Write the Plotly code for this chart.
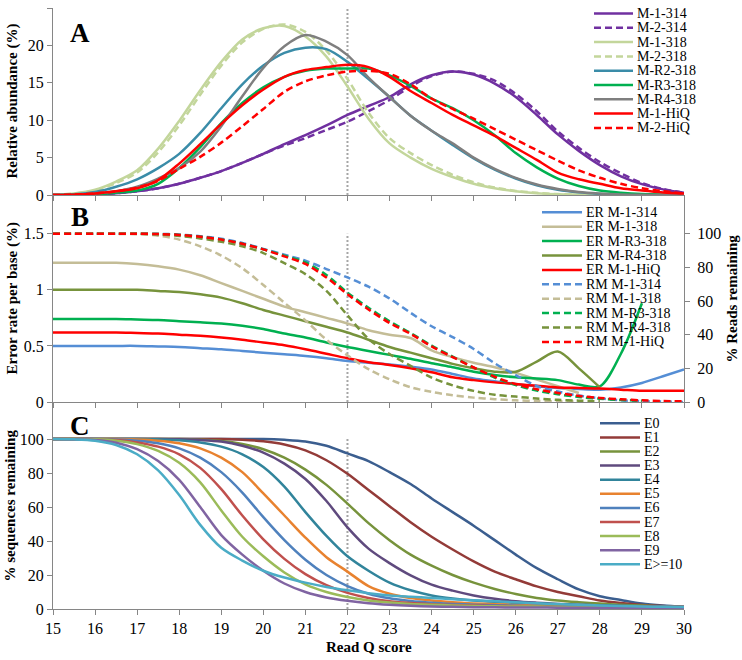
import plotly.graph_objects as go

# ---------------- DATA ----------------
Q = [15, 15.5, 16, 16.5, 17, 17.5, 18, 18.5, 19, 19.5, 20, 20.5, 21, 21.5, 22,
     22.5, 23, 23.5, 24, 24.5, 25, 25.5, 26, 26.5, 27, 27.5, 28, 28.5, 29, 29.5, 30]
Q_TICKS = [15, 16, 17, 18, 19, 20, 21, 22, 23, 24, 25, 26, 27, 28, 29, 30]
CUTOFF_Q = 22

# Panel A: relative abundance (%)
A_NAMES = ["M-1-314", "M-2-314", "M-1-318", "M-2-318", "M-R2-318", "M-R3-318", "M-R4-318", "M-1-HiQ", "M-2-HiQ"]
M1_314 = [0, 0.02, 0.1, 0.25, 0.5, 0.9, 1.5, 2.3, 3.2, 4.3, 5.5, 6.8, 8.0, 9.3, 10.7, 11.9, 13.1, 14.8, 16.0, 16.5, 16.1, 14.9, 13.1, 10.7, 8.1, 5.9, 4.0, 2.5, 1.45, 0.75, 0.3]
M2_314 = [0, 0.02, 0.1, 0.25, 0.5, 0.9, 1.5, 2.3, 3.2, 4.3, 5.5, 6.6, 7.6, 8.7, 9.8, 11.2, 12.7, 14.5, 15.9, 16.5, 16.2, 15.3, 13.5, 11.2, 8.5, 6.3, 4.4, 2.9, 1.6, 0.8, 0.3]
M1_318 = [0, 0.2, 0.7, 1.8, 3.3, 6.2, 9.9, 14.0, 17.8, 20.8, 22.3, 22.6, 21.2, 18.5, 14.5, 10.2, 6.9, 5.0, 3.5, 2.4, 1.5, 0.9, 0.5, 0.25, 0.1, 0.05, 0.02, 0, 0, 0, 0]
M2_318 = [0, 0.2, 0.6, 1.6, 3.0, 5.7, 9.3, 13.4, 17.3, 20.4, 22.2, 22.8, 21.8, 19.3, 15.5, 11.0, 7.6, 5.6, 4.0, 2.7, 1.7, 1.0, 0.55, 0.3, 0.12, 0.05, 0.02, 0, 0, 0, 0]
MR2_318 = [0, 0.1, 0.4, 1.1, 2.1, 3.6, 5.5, 8.3, 11.6, 14.8, 17.3, 19.0, 19.7, 19.5, 17.8, 15.5, 13.1, 10.6, 8.6, 6.7, 4.9, 3.4, 2.2, 1.3, 0.7, 0.35, 0.15, 0.05, 0, 0, 0]
MR3_318 = [0, 0.02, 0.1, 0.3, 0.6, 1.5, 3.6, 6.4, 9.6, 12.3, 14.4, 15.8, 16.6, 16.9, 16.9, 16.9, 16.0, 14.6, 12.9, 11.6, 10.0, 8.0, 5.6, 3.7, 2.2, 1.2, 0.6, 0.3, 0.12, 0.05, 0]
MR4_318 = [0, 0.05, 0.2, 0.5, 1.1, 2.2, 3.6, 5.8, 9.2, 13.2, 17.0, 19.9, 21.4, 20.5, 18.7, 15.7, 13.1, 10.6, 8.6, 6.9, 5.0, 3.5, 2.3, 1.4, 0.8, 0.4, 0.2, 0.08, 0.03, 0, 0]
M1_HIQ = [0, 0.05, 0.2, 0.5, 0.9, 2.0, 4.2, 6.8, 9.5, 12.0, 14.1, 15.8, 16.7, 17.1, 17.4, 17.1, 15.8, 13.9, 12.3, 10.7, 9.3, 7.9, 6.3, 4.7, 3.0, 2.1, 1.5, 0.9, 0.6, 0.35, 0.2]
M2_HIQ = [0, 0.05, 0.2, 0.5, 1.0, 1.9, 3.5, 5.1, 7.0, 9.2, 11.5, 13.8, 15.2, 16.0, 16.5, 16.6, 16.2, 14.8, 12.9, 11.5, 10.2, 8.8, 7.4, 6.0, 4.6, 3.3, 2.3, 1.5, 0.9, 0.5, 0.2]
A_TICKS = [0, 5, 10, 15, 20, 25]

# Panel B: error rate per base (%) (left) and % reads remaining (right)
ER_M1_314 = [0.50, 0.50, 0.50, 0.50, 0.50, 0.495, 0.49, 0.48, 0.47, 0.455, 0.44, 0.425, 0.41, 0.39, 0.365, 0.35, 0.335, 0.315, 0.29, 0.25, 0.21, 0.185, 0.16, 0.14, 0.125, 0.115, 0.11, 0.13, 0.17, 0.23, 0.29]
ER_M1_318 = [1.24, 1.24, 1.24, 1.24, 1.23, 1.21, 1.18, 1.13, 1.06, 0.99, 0.92, 0.85, 0.80, 0.75, 0.70, 0.64, 0.60, 0.57, 0.46, 0.40, 0.35, 0.31, 0.26, 0.20, 0.14, 0.08]
ER_MR3_318 = [0.74, 0.74, 0.74, 0.74, 0.735, 0.73, 0.72, 0.71, 0.70, 0.68, 0.65, 0.61, 0.575, 0.53, 0.49, 0.455, 0.42, 0.385, 0.345, 0.31, 0.27, 0.24, 0.22, 0.21, 0.195, 0.155, 0.14, 0.43, 0.88]
ER_MR4_318 = [1.0, 1.0, 1.0, 1.0, 1.0, 0.99, 0.98, 0.96, 0.93, 0.88, 0.82, 0.77, 0.72, 0.67, 0.62, 0.555, 0.49, 0.44, 0.39, 0.34, 0.30, 0.27, 0.27, 0.36, 0.45, 0.30, 0.13]
ER_M1_HIQ = [0.62, 0.62, 0.62, 0.62, 0.615, 0.61, 0.60, 0.59, 0.575, 0.555, 0.53, 0.505, 0.47, 0.43, 0.39, 0.355, 0.33, 0.30, 0.265, 0.22, 0.195, 0.175, 0.16, 0.145, 0.13, 0.125, 0.12, 0.11, 0.10, 0.10, 0.10]
RM_M1_314 = [100, 100, 100, 100, 100, 99.9, 99.5, 98.5, 97, 94.5, 91, 87.5, 84, 79, 74, 68.5, 61.5, 53, 45, 38.6, 31.5, 23, 16, 9.5, 6.2, 3.8, 2.2, 1.0, 0.5, 0.2, 0]
RM_M1_318 = [100, 100, 100, 99.9, 99.7, 98.8, 96.5, 92.5, 87, 79.5, 69.5, 59, 48.5, 37, 27.7, 19.5, 13.5, 8.8, 6, 4.0, 2.6, 1.7, 1.0, 0.6, 0.4, 0.2]
RM_MR3_318 = [100, 100, 100, 100, 100, 99.8, 99.3, 98.2, 96.5, 94, 90.7, 87, 83, 75.5, 65, 56, 48, 41, 33.5, 27, 20.5, 14.5, 10, 6.8, 4.6, 3.0, 1.9, 1.2, 0.7]
RM_MR4_318 = [100, 100, 100, 100, 100, 99.6, 98.7, 97.2, 95.2, 92.5, 88.5, 82.5, 76, 66, 51.5, 37.5, 28.5, 21.5, 14.5, 9.9, 6.6, 4.3, 3.2, 2.1, 1.3, 0.8, 0.4]
RM_M1_HIQ = [100, 100, 100, 100, 100, 99.8, 99.3, 98.2, 96.5, 94, 90.7, 86.5, 82, 74, 64, 55, 47, 40.5, 33, 26.7, 20.5, 15, 10.6, 7.6, 5.4, 3.6, 2.4, 1.6, 1.0, 0.6, 0.4]
B_NAMES = ["ER M-1-314", "ER M-1-318", "ER M-R3-318", "ER M-R4-318", "ER M-1-HiQ",
           "RM M-1-314", "RM M-1-318", "RM M-R3-318", "RM M-R4-318", "RM M-1-HiQ"]
B_LEFT_TICKS = [0, 0.5, 1, 1.5]
B_RIGHT_TICKS = [0, 20, 40, 60, 80, 100]

# Panel C: % sequences remaining
C_NAMES = ["E0", "E1", "E2", "E3", "E4", "E5", "E6", "E7", "E8", "E9", "E>=10"]
E0 = [100, 100, 100, 100, 100, 100, 100, 100, 100, 100, 100, 99.5, 98.5, 96, 91.5, 87, 80.5, 73.5, 65, 57, 49, 40.5, 32, 24, 17.5, 11.5, 7.5, 5.3, 3.2, 2, 1.2]
E1 = [100, 100, 100, 100, 100, 100, 100, 100, 100, 99.6, 98.7, 96.8, 93.3, 87.5, 79.5, 70, 60.5, 51, 42.5, 35, 28, 22, 17.5, 13.3, 10, 7.5, 5, 3.5, 2.4, 1.7, 1.2]
E2 = [100, 100, 100, 100, 100, 100, 100, 99.6, 98.8, 97, 94, 89, 82, 73, 62, 50.5, 40.5, 32, 25.5, 20, 15.5, 11.8, 8.8, 6.5, 5, 4, 3.2, 2.5, 2, 1.5, 1.2]
E3 = [100, 100, 100, 100, 100, 100, 99.8, 99.4, 98.5, 96, 92, 85.5, 76.5, 63.5, 48, 35.5, 27, 19.8, 14.3, 10.8, 8, 6.0, 4.6, 3.7, 3.0, 2.5, 2.1, 1.8, 1.5, 1.3, 1.2]
E4 = [100, 100, 100, 100, 100, 99.8, 99.3, 98, 95.5, 91, 83.5, 72, 57, 43, 31, 22.5, 15.5, 11, 8, 6.2, 5, 4.2, 3.6, 3.1, 2.7, 2.4, 2.1, 1.8, 1.6, 1.4, 1.2]
E5 = [100, 100, 100, 100, 99.7, 99, 97.5, 94.5, 89, 80.5, 68, 55, 42, 30.5, 22, 13.5, 9, 6.5, 5, 4, 3.3, 2.8, 2.4, 2.1, 1.9, 1.7, 1.5, 1.4, 1.3, 1.2, 1.2]
E6 = [100, 100, 100, 99.7, 99, 97.5, 94.5, 89, 80.5, 68.5, 54, 40.5, 29, 20, 13.5, 9, 6.3, 4.7, 3.7, 3, 2.5, 2.2, 1.9, 1.7, 1.6, 1.5, 1.4, 1.3, 1.3, 1.2, 1.2]
E7 = [100, 100, 99.9, 99.4, 98, 95.5, 91, 83, 70.5, 55, 41, 29.5, 20.5, 14, 9.5, 6.5, 4.6, 3.5, 2.8, 2.3, 2.0, 1.8, 1.6, 1.5, 1.4, 1.3, 1.3, 1.2, 1.2, 1.2, 1.2]
E8 = [100, 100, 99.8, 99, 97, 93, 86, 74.5, 58, 42.5, 31, 21.5, 14.5, 10, 7, 5, 3.8, 3, 2.5, 2.1, 1.8, 1.6, 1.5, 1.4, 1.3, 1.2, 1.2, 1.1, 1.1, 1.1, 1.1]
E9 = [100, 99.9, 99.4, 97.8, 94, 87, 76, 60, 43.5, 32, 22.5, 15, 10, 6.8, 4.8, 3.4, 2.5, 1.9, 1.5, 1.3, 1.1, 1.0, 0.9, 0.9, 0.8, 0.8, 0.8, 0.8, 0.8, 0.8, 0.8]
E10P = [100, 99.8, 99, 96.5, 91, 81.5, 67, 49.5, 36, 28.5, 22.5, 18.5, 15.5, 13, 11, 9.3, 8, 7.2, 6.5, 5.8, 5.1, 4.5, 3.9, 3.4, 2.9, 2.5, 2.1, 1.8, 1.5, 1.3, 1.2]
C_TICKS = [0, 20, 40, 60, 80, 100]

# ---------------- STYLE ----------------
SERIF = "Liberation Serif"
AXIS_COLOR = "#868686"
DASH = "7px,4px"
LW = 2.5

A_SERIES = [
    (M1_314, "#7030A0", "solid"), (M2_314, "#7030A0", DASH),
    (M1_318, "#C3D69B", "solid"), (M2_318, "#C3D69B", DASH),
    (MR2_318, "#3A8CA8", "solid"), (MR3_318, "#00B050", "solid"),
    (MR4_318, "#7F7F7F", "solid"), (M1_HIQ, "#FF0000", "solid"),
    (M2_HIQ, "#FF0000", DASH),
]
B_SERIES = [
    (ER_M1_314, "#558ED5", "solid", "y2"), (ER_M1_318, "#C4BD97", "solid", "y2"),
    (ER_MR3_318, "#00B050", "solid", "y2"), (ER_MR4_318, "#77933C", "solid", "y2"),
    (ER_M1_HIQ, "#FF0000", "solid", "y2"),
    (RM_M1_314, "#558ED5", DASH, "y4"), (RM_M1_318, "#C4BD97", DASH, "y4"),
    (RM_MR3_318, "#00B050", DASH, "y4"), (RM_MR4_318, "#77933C", DASH, "y4"),
    (RM_M1_HIQ, "#FF0000", DASH, "y4"),
]
C_SERIES = [
    (E0, "#3B5E8F"), (E1, "#933B38"), (E2, "#77933C"), (E3, "#5F4A7E"),
    (E4, "#31849B"), (E5, "#E8822F"), (E6, "#4F81BD"), (E7, "#C0504D"),
    (E8, "#9BBB59"), (E9, "#8064A2"), (E10P, "#4BACC6"),
]

# ---------------- LAYOUT GEOMETRY (pixels) ----------------
W, H = 742, 660
ML, MR, MT, MB = 53, 58, 8, 51
PW, PH = W - ML - MR, H - MT - MB
A_BOTTOM, B_BOTTOM = 195, 402


def pxx(x):
    return (x - ML) / PW


def pxy(y):
    return (H - MB - y) / PH


dA = pxy(A_BOTTOM)
dB = pxy(B_BOTTOM)

fig = go.Figure()


def line(xs, ys, color, dash, xa, ya, width=LW):
    fig.add_trace(go.Scatter(
        x=xs, y=ys, mode="lines", xaxis=xa, yaxis=ya,
        line=dict(color=color, width=width, dash=dash, shape="spline", smoothing=0.9),
        hoverinfo="skip", showlegend=False))


# reference (dotted) lines at the Q-score cutoff
for xa, ya, ticks in (("x", "y", A_TICKS), ("x2", "y2", B_LEFT_TICKS), ("x3", "y3", C_TICKS)):
    fig.add_trace(go.Scatter(
        x=[CUTOFF_Q, CUTOFF_Q], y=[ticks[0], ticks[-1]], mode="lines", xaxis=xa, yaxis=ya,
        line=dict(color="#A6A6A6", width=2, dash="2px,2px"), hoverinfo="skip", showlegend=False))

for vals, color, dash in A_SERIES:
    line(Q[:len(vals)], vals, color, dash, "x", "y")
for vals, color, dash, ya in B_SERIES:
    line(Q[:len(vals)], vals, color, dash, "x2", ya)
for vals, color in C_SERIES:
    line(Q[:len(vals)], vals, color, "solid", "x3", "y3")

tickfont = dict(family=SERIF, size=16, color="black")
common_x = dict(range=[15, 30], tickvals=Q_TICKS, ticks="outside", ticklen=5,
                tickcolor=AXIS_COLOR, showline=True, linecolor=AXIS_COLOR, linewidth=1,
                showgrid=False, zeroline=False, tickfont=tickfont, fixedrange=True)
common_y = dict(ticks="outside", ticklen=5, tickcolor=AXIS_COLOR, showline=True,
                linecolor=AXIS_COLOR, linewidth=1, showgrid=False, zeroline=False,
                tickfont=tickfont, fixedrange=True)

b_height_px = B_BOTTOM - A_BOTTOM
b_left_max = b_height_px / 112.2
b_right_max = b_height_px / 1.683
c_max = (H - MB - B_BOTTOM) / 1.7

fig.update_layout(
    width=W, height=H, margin=dict(l=ML, r=MR, t=MT, b=MB),
    paper_bgcolor="white", plot_bgcolor="white", showlegend=False,
    font=dict(family=SERIF, color="black"),
    xaxis=dict(common_x, anchor="y", domain=[0, 1], showticklabels=False),
    xaxis2=dict(common_x, anchor="y2", domain=[0, 1], showticklabels=False),
    xaxis3=dict(common_x, anchor="y3", domain=[0, 1], showticklabels=True),
    yaxis=dict(common_y, anchor="x", domain=[dA, 1], range=[0, 25], tickvals=A_TICKS),
    yaxis2=dict(common_y, anchor="x2", domain=[dB, dA], range=[0, b_left_max],
                tickvals=B_LEFT_TICKS, ticktext=["0", "0.5", "1", "1.5"]),
    yaxis4=dict(common_y, anchor="x2", overlaying="y2", side="right",
                range=[0, b_right_max], tickvals=B_RIGHT_TICKS, ticklabelstandoff=4),
    yaxis3=dict(common_y, anchor="x3", domain=[0, dB], range=[0, c_max], tickvals=C_TICKS),
)

ann = []
title_font = dict(family=SERIF, size=15, color="black")
# axis titles
ann.append(dict(text="<b>Relative abundance (%)</b>", x=pxx(12), y=pxy((MT + A_BOTTOM) / 2),
                textangle=-90, font=title_font))
ann.append(dict(text="<b>Error rate per base (%)</b>", x=pxx(12), y=pxy((A_BOTTOM + B_BOTTOM) / 2),
                textangle=-90, font=title_font))
ann.append(dict(text="<b>% sequences remaining</b>", x=pxx(10), y=pxy((B_BOTTOM + H - MB) / 2),
                textangle=-90, font=title_font))
ann.append(dict(text="<b>% Reads remaining</b>", x=pxx(731), y=pxy((A_BOTTOM + B_BOTTOM) / 2),
                textangle=-90, font=title_font))
ann.append(dict(text="<b>Read Q score</b>", x=0.5, y=pxy(647), font=title_font))
# panel letters
for letter, cy in (("A", 33), ("B", 217), ("C", 426)):
    ann.append(dict(text="<b>%s</b>" % letter, x=pxx(80), y=pxy(cy),
                    font=dict(family=SERIF, size=27, color="black")))

for a in ann:
    a.update(xref="paper", yref="paper", showarrow=False, xanchor="center", yanchor="middle")

# manual legends
shapes = []
leg_font = dict(family=SERIF, size=14, color="black")


def legend(names, styles, x0, x1, tx, y0, step):
    for i, (name, (color, dash)) in enumerate(zip(names, styles)):
        yy = y0 + i * step
        shapes.append(dict(type="line", xref="paper", yref="paper",
                           x0=pxx(x0), x1=pxx(x1), y0=pxy(yy), y1=pxy(yy),
                           line=dict(color=color, width=LW, dash=dash)))
        ann.append(dict(text=name, xref="paper", yref="paper", x=pxx(tx), y=pxy(yy),
                        xanchor="left", yanchor="middle", showarrow=False, font=leg_font))


legend(A_NAMES, [(c, d) for _, c, d in A_SERIES], 594, 633, 635, 13.5, 14.3)
legend(B_NAMES, [(c, d) for _, c, d, _ in B_SERIES], 542, 582, 584, 212.3, 14.4)
legend(C_NAMES, [(c, "solid") for _, c in C_SERIES], 600, 640, 642, 423.3, 14.1)

fig.update_layout(annotations=ann, shapes=shapes)

# remove the browser's default page margin so the figure sits at the window origin
fig.write_html("out.html", config={"displayModeBar": False},
               post_script="document.body.style.margin='0';")
